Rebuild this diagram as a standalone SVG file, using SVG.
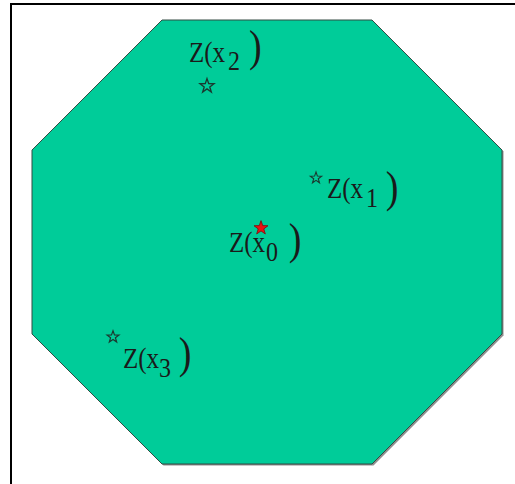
<svg xmlns="http://www.w3.org/2000/svg" width="515" height="484" viewBox="0 0 515 484">
  <style>
    .lbl { font-family: "Liberation Serif", "Times New Roman", serif; fill: #1a1a1a; font-size: 25px; }
    .sub { font-size: 24px; }
    .par { font-size: 38px; }
    .star { fill: #00CC99; stroke: #1a3a30; stroke-width: 1.3; stroke-linejoin: miter; }
    .star0 { fill: #ee1111; stroke: #7a1010; stroke-width: 0.8; }
  </style>
  <defs>
    <path id="starShape" d="M0,-7 L1.65,-2.27 6.66,-2.16 2.66,0.87 4.11,5.66 0,2.8 -4.11,5.66 -2.66,0.87 -6.66,-2.16 -1.65,-2.27 Z"/>
  </defs>
  <rect x="0" y="0" width="515" height="484" fill="#ffffff"/>
  <!-- frame -->
  <path d="M11,484 L11,4 L515,4" fill="none" stroke="#000" stroke-width="2"/>
  <!-- octagon region -->
  <g id="region">
    <polygon points="163.5,21.5 373.5,21.5 503.5,151.5 503.5,335.5 373.5,465.5 163.5,465.5 33.5,335.5 33.5,151.5" fill="#444" opacity="0.6"/>
    <polygon points="162,20 372,20 502,150 502,334 372,464 162,464 32,334 32,150" fill="#00CC99" stroke="#334a42" stroke-width="1"/>
  </g>
  <g id="connectors"/>
  <g id="node-x2">
    <use href="#starShape" class="star" transform="translate(207,86) scale(1.05)"/>
    <text class="lbl" transform="translate(189,62) scale(1,1.15)">Z(x<tspan class="sub" x="39" y="7">2</tspan><tspan class="par" x="60" y="-1.3">)</tspan></text>
  </g>
  <g id="node-x1">
    <use href="#starShape" class="star" transform="translate(316,178) scale(0.85)"/>
    <text class="lbl" transform="translate(327,198) scale(1,1.15)">Z(x<tspan class="sub" x="39" y="7.8">1</tspan><tspan class="par" x="58.7" y="3.5">)</tspan></text>
  </g>
  <g id="node-x0">
    <text class="lbl" transform="translate(229,252) scale(1,1.15)">Z(x<tspan class="sub" x="37" y="7.8">0</tspan><tspan class="par" x="59.7" y="1.3">)</tspan></text>
    <use href="#starShape" class="star0" transform="translate(261,228) scale(1.05)"/>
  </g>
  <g id="node-x3">
    <use href="#starShape" class="star" transform="translate(113,337) scale(0.9)"/>
    <text class="lbl" transform="translate(123,368) scale(1,1.15)">Z(x<tspan class="sub" x="36" y="7.8">3</tspan><tspan class="par" x="55.7" y="0">)</tspan></text>
  </g>
</svg>
